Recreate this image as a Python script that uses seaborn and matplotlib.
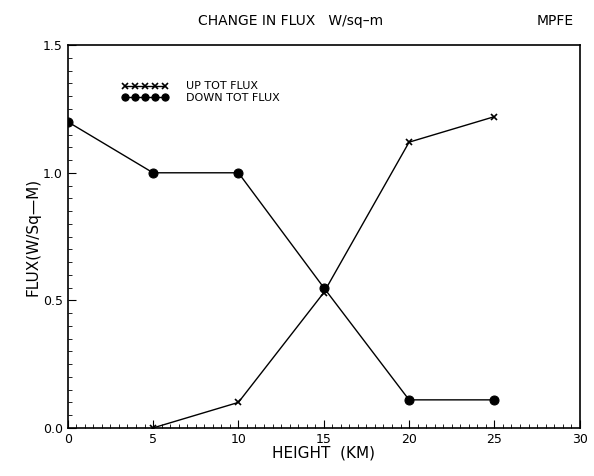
import matplotlib
matplotlib.use("Agg")
import matplotlib.pyplot as plt
from matplotlib.ticker import MultipleLocator
import seaborn as sns

height_up = [5, 10, 15, 20, 25]
up_flux = [0.0, 0.10, 0.53, 1.12, 1.22]
height_down = [0, 5, 10, 15, 20, 25]
down_flux = [1.20, 1.00, 1.00, 0.55, 0.11, 0.11]

sns.set_style("ticks")
plt.rcParams["font.family"] = ["DejaVu Sans"]
plt.rcParams["text.color"] = "black"
plt.rcParams["axes.labelcolor"] = "black"
plt.rcParams["xtick.color"] = "black"
plt.rcParams["ytick.color"] = "black"

fig = plt.figure(figsize=(5.94, 4.76), dpi=100)
ax = fig.add_axes([0.114, 0.101, 0.862, 0.804])

sns.lineplot(x=height_up, y=up_flux, ax=ax, color="black", linewidth=1.0,
             marker="x", markersize=5, markeredgewidth=1.2,
             markeredgecolor="black", label="UP TOT FLUX")
sns.lineplot(x=height_down, y=down_flux, ax=ax, color="black", linewidth=1.0,
             marker="o", markersize=6.5, markeredgecolor="black",
             label="DOWN TOT FLUX")

ax.set_xlim(0, 30)
ax.set_ylim(0, 1.5)
ax.xaxis.set_major_locator(MultipleLocator(5))
ax.xaxis.set_minor_locator(MultipleLocator(0.5))
ax.yaxis.set_major_locator(MultipleLocator(0.5))
ax.yaxis.set_minor_locator(MultipleLocator(0.05))
ax.yaxis.set_major_formatter(plt.FormatStrFormatter("%.1f"))
ax.tick_params(which="both", direction="in", color="black", labelsize=9)
ax.tick_params(which="major", length=6)
ax.tick_params(which="minor", length=3)
for s in ax.spines.values():
    s.set_color("black")
    s.set_linewidth(1.2)

ax.set_xlabel("HEIGHT  (KM)", fontsize=11, labelpad=0)
ax.set_ylabel("FLUX(W/Sq\u2014M)", fontsize=11, labelpad=2)

fig.text(0.49, 0.955, "CHANGE IN FLUX   W/sq\u2013m", ha="center", va="center", fontsize=10)
fig.text(0.935, 0.955, "MPFE", ha="center", va="center", fontsize=10)

ax.legend(loc="upper left", bbox_to_anchor=(0.095, 0.92), frameon=False,
          fontsize=8, handlelength=4.2, handletextpad=1.6, numpoints=5,
          labelspacing=0.1, borderpad=0, markerscale=0.8)

fig.savefig("out.png", dpi=100, facecolor="white")
